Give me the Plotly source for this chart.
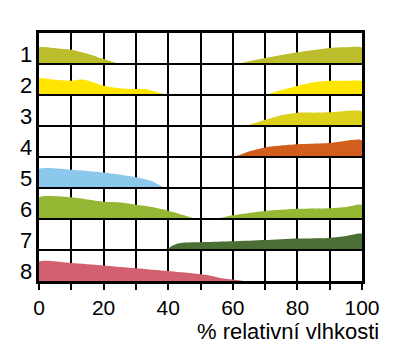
import plotly.graph_objects as go

# Relative humidity (%) axis
rows = ["1", "2", "3", "4", "5", "6", "7", "8"]
colors = ["#bcbd2a", "#ffe500", "#dcd21c", "#d25e1e", "#8cc8ec", "#95b834", "#4b6e34", "#d2606f"]

# Each row: list of segments, each segment = (x values, relative heights 0..1 of the row)
r1a_x = [0, 5, 10, 15, 20, 25]
r1a_y = [0.53, 0.51, 0.46, 0.33, 0.16, 0.0]
r1b_x = [61.5, 70, 80, 90, 95, 100]
r1b_y = [0.0, 0.19, 0.38, 0.52, 0.54, 0.53]

r2a_x = [0, 5, 10, 13, 15, 20, 25, 30, 33, 35, 40]
r2a_y = [0.52, 0.49, 0.46, 0.50, 0.47, 0.30, 0.22, 0.19, 0.19, 0.14, 0.0]
r2b_x = [70, 75, 80, 85, 90, 95, 100]
r2b_y = [0.0, 0.16, 0.29, 0.41, 0.46, 0.46, 0.44]

r3_x = [64, 70, 75, 80, 85, 90, 100]
r3_y = [0.0, 0.20, 0.35, 0.43, 0.43, 0.44, 0.47]

r4_x = [60.3, 65, 70, 75, 80, 90, 100]
r4_y = [0.0, 0.18, 0.31, 0.37, 0.41, 0.45, 0.54]

r5_x = [0, 10, 20, 30, 35, 39]
r5_y = [0.61, 0.59, 0.50, 0.35, 0.22, 0.0]

r6a_x = [0, 10, 15, 20, 25, 30, 35, 40, 45, 48.5]
r6a_y = [0.70, 0.70, 0.63, 0.56, 0.54, 0.46, 0.39, 0.27, 0.12, 0.0]
r6b_x = [55, 60, 70, 80, 90, 95, 100]
r6b_y = [0.0, 0.12, 0.26, 0.33, 0.35, 0.39, 0.46]

r7_x = [39.5, 41, 43, 45, 50, 60, 70, 80, 90, 95, 100]
r7_y = [0.0, 0.12, 0.21, 0.24, 0.25, 0.28, 0.32, 0.37, 0.39, 0.45, 0.52]

r8_x = [0, 10, 20, 30, 40, 48, 52, 56, 64]
r8_y = [0.62, 0.58, 0.50, 0.41, 0.32, 0.24, 0.19, 0.10, 0.0]

segments = [
    [(r1a_x, r1a_y), (r1b_x, r1b_y)],
    [(r2a_x, r2a_y), (r2b_x, r2b_y)],
    [(r3_x, r3_y)],
    [(r4_x, r4_y)],
    [(r5_x, r5_y)],
    [(r6a_x, r6a_y), (r6b_x, r6b_y)],
    [(r7_x, r7_y)],
    [(r8_x, r8_y)],
]

x_ticks = [0, 20, 40, 60, 80, 100]
x_title = "% relativní vlhkosti"

FONT = "Liberation Sans, Arial, Helvetica"

fig = go.Figure()
n = len(rows)
for i, segs in enumerate(segments):
    base = n - 1 - i
    for xs, ys in segs:
        px = [xs[0]] + list(xs) + [xs[-1]]
        py = [base] + [base + v for v in ys] + [base]
        fig.add_trace(go.Scatter(
            x=px, y=py, mode="lines", fill="toself",
            fillcolor=colors[i], line=dict(width=0, color=colors[i], shape="spline", smoothing=0.6),
            hoverinfo="skip", showlegend=False,
        ))

# horizontal row separators drawn above fills
for k in range(1, n):
    fig.add_shape(type="line", xref="paper", x0=0, x1=1, yref="y", y0=k, y1=k,
                  line=dict(color="black", width=2), layer="above")

# row labels
for i, lab in enumerate(rows):
    fig.add_annotation(x=0, xref="paper", xanchor="right", xshift=-5,
                       y=n - 1 - i + 0.3, yref="y", yanchor="middle",
                       text=lab, showarrow=False,
                       font=dict(size=22, color="black", family=FONT))

fig.add_annotation(x=1, xref="paper", xanchor="right", xshift=19,
                   y=0, yref="paper", yanchor="top", yshift=-36,
                   text=x_title, showarrow=False,
                   font=dict(size=22, color="black", family=FONT))

fig.update_xaxes(range=[0, 100], dtick=10, showgrid=True, gridcolor="black", gridwidth=2,
                 tickmode="array", tickvals=list(range(0, 101, 10)),
                 ticktext=[str(v) if v in x_ticks else "" for v in range(0, 101, 10)],
                 ticks="outside", ticklen=6, tickwidth=2, tickcolor="black",
                 showline=True, linecolor="black", linewidth=3, mirror=True,
                 zeroline=False, fixedrange=True,
                 tickfont=dict(size=21, color="black", family=FONT))
fig.update_yaxes(range=[0, n], showgrid=False, showticklabels=False, ticks="",
                 showline=True, linecolor="black", linewidth=3, mirror=True,
                 zeroline=False, fixedrange=True)

fig.update_layout(width=394, height=349, margin=dict(l=39, r=32, t=33, b=68),
                  plot_bgcolor="white", paper_bgcolor="white")

fig.write_html("out.html", config={"displayModeBar": False})
